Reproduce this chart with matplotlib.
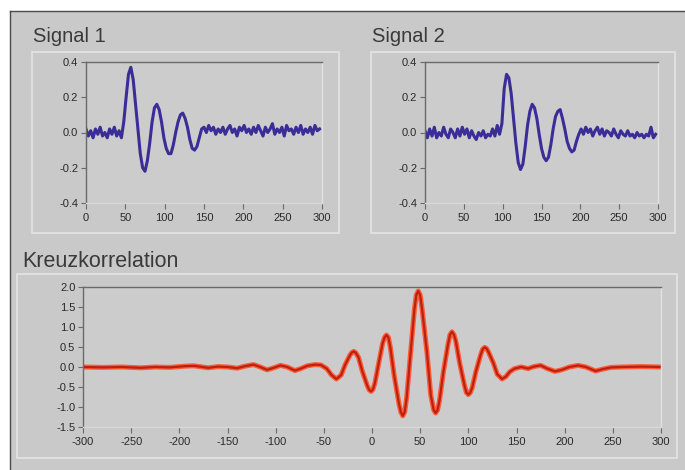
import matplotlib
matplotlib.use("Agg")
import matplotlib.pyplot as plt
import matplotlib.patches as patches
from matplotlib.ticker import FormatStrFormatter
import numpy as np

plt.rcParams['axes.unicode_minus'] = False

# signal 1, one value every 3 samples (0..297)
sig1 = [0.02, -0.02, 0.01, -0.03, 0.02, -0.01, 0.03, -0.02, 0.0, -0.03,
        0.02, -0.01, 0.03, -0.02, 0.01, -0.03,
        0.06, 0.20, 0.33, 0.37, 0.30, 0.16, 0.02, -0.12, -0.20, -0.22,
        -0.16, -0.06, 0.06, 0.14, 0.16, 0.13, 0.06, -0.03, -0.09, -0.12,
        -0.12, -0.07, 0.0, 0.06, 0.10, 0.11, 0.08, 0.03, -0.04, -0.09,
        -0.10, -0.08, -0.03, 0.02,
        0.03, 0.0, 0.04, 0.01, 0.03, -0.01, 0.02, 0.0, 0.03, -0.01,
        0.02, 0.04, 0.0, 0.02, -0.02, 0.03, 0.01, 0.04, 0.0, 0.02,
        -0.01, 0.03, 0.0, 0.04, 0.01, -0.02, 0.03, 0.0, 0.02, 0.05,
        -0.01, 0.02, 0.0, 0.03, -0.02, 0.04, 0.01, 0.02, -0.01, 0.03,
        0.0, 0.04, -0.01, 0.02, 0.0, 0.03, -0.01, 0.04, 0.01, 0.02]

# signal 2, same sampling
sig2 = [0.01, -0.03, 0.02, -0.02, 0.03, -0.03, 0.0, -0.02, 0.03, -0.01,
        -0.03, 0.02, 0.0, -0.03, 0.02, -0.02, 0.03, -0.01, 0.02, -0.03,
        0.01, -0.02, -0.04, 0.0, -0.02, 0.01, -0.03, -0.01, -0.02, 0.02,
        -0.02, 0.04, -0.01,
        0.05, 0.25, 0.33, 0.31, 0.22, 0.08, -0.06, -0.17, -0.21, -0.18,
        -0.08, 0.04, 0.12, 0.16, 0.14, 0.08, -0.01, -0.09, -0.14, -0.16,
        -0.14, -0.07, 0.02, 0.09, 0.12, 0.13, 0.08, 0.02, -0.05, -0.09,
        -0.11, -0.10, -0.05, -0.01,
        0.02, -0.01, 0.03, 0.0, 0.02, -0.02, 0.01, 0.03, -0.01, 0.02,
        -0.02, 0.01, 0.0, -0.02, 0.02, -0.01, -0.03, 0.01, -0.01, -0.02,
        0.01, -0.02, -0.01, -0.03, 0.0, -0.02, -0.01, -0.03, -0.01, -0.02,
        0.03, -0.03, -0.01]

samples = np.arange(0, 300, 3)

# cross correlation
lags = [-300, -280, -260, -240, -225, -210, -195, -185, -170, -160,
        -150, -140, -132, -123, -116, -109, -102, -95, -88, -80,
        -74, -67, -59, -53, -47, -42, -37, -32, -28, -23,
        -21, -19, -17, -14, -10, -5, -3, -1, 1, 3,
        7, 11, 13, 15, 17, 19, 23, 28, 30, 32,
        34, 36, 40, 44, 46, 48, 50, 52, 57, 61,
        64, 66, 68, 70, 74, 79, 81, 83, 85, 87,
        91, 96, 98, 100, 102, 104, 108, 113, 115, 117,
        119, 121, 126, 130, 135, 139, 143, 148, 155, 162,
        168, 175, 182, 190, 197, 205, 214, 222, 232, 240,
        248, 260, 280, 300]
xcorr = [0.0, -0.01, 0.0, -0.02, 0.0, -0.01, 0.02, 0.03, -0.02, 0.01,
         0.0, -0.03, 0.02, 0.06, 0.0, -0.07, -0.02, 0.04, 0.0, -0.09,
         -0.04, 0.03, 0.06, 0.05, -0.04, -0.20, -0.30, -0.20, 0.05, 0.29,
         0.36, 0.39, 0.36, 0.24, -0.11, -0.46, -0.57, -0.61, -0.56, -0.40,
         0.10, 0.59, 0.74, 0.80, 0.74, 0.50, -0.21, -0.92, -1.13, -1.22,
         -1.12, -0.76, 0.34, 1.44, 1.80, 1.90, 1.80, 1.45, 0.38, -0.70,
         -1.07, -1.15, -1.08, -0.85, -0.14, 0.58, 0.81, 0.88, 0.81, 0.65,
         0.10, -0.46, -0.64, -0.69, -0.64, -0.52, -0.10, 0.32, 0.45, 0.49,
         0.46, 0.37, 0.10, -0.18, -0.30, -0.24, -0.12, -0.04, 0.0, -0.04,
         0.01, 0.04, -0.04, -0.11, -0.07, 0.0, 0.04, 0.0, -0.10, -0.05,
         -0.01, 0.0, 0.01, 0.0]

titles = ["Signal 1", "Signal 2", "Kreuzkorrelation"]

W, H = 685, 470
bg = '#c9c9c9'
txt = '#3a3a3a'


def box(l, t, r, b):
    return [l / W, 1 - b / H, (r - l) / W, (b - t) / H]


fig = plt.figure(figsize=(6.85, 4.70), dpi=100, facecolor='white')

# grey window with dark top/left edge, kept behind the axes
fig.add_artist(patches.Rectangle((10 / W, 0), 1, 1 - 11 / H, transform=fig.transFigure,
                                 facecolor=bg, edgecolor='none', zorder=-10))
fig.add_artist(plt.Line2D([10 / W, 10 / W], [0, 1 - 11 / H], transform=fig.transFigure,
                          color='#4a4a4a', lw=1, zorder=-9))
fig.add_artist(plt.Line2D([10 / W, 1], [1 - 11 / H, 1 - 11 / H], transform=fig.transFigure,
                          color='#4a4a4a', lw=1, zorder=-9))

# light frames around the graphs
for l, t, r, b in [(32, 52, 339, 233), (371, 52, 675, 233), (17, 274, 677, 458)]:
    fig.add_artist(patches.Rectangle((l / W, 1 - b / H), (r - l) / W, (b - t) / H,
                                     transform=fig.transFigure, facecolor='none',
                                     edgecolor='#e4e4e4', lw=1.2, zorder=-8))

fig.text(33 / W, 1 - 42 / H, titles[0], fontsize=14.5, color=txt, family='Liberation Sans')
fig.text(372 / W, 1 - 42 / H, titles[1], fontsize=14.5, color=txt, family='Liberation Sans')
fig.text(22 / W, 1 - 267 / H, titles[2], fontsize=15.5, color=txt, family='Liberation Sans')


def style(ax):
    ax.set_facecolor('#cccccc')
    ax.spines['top'].set_color('#6a6a6a')
    ax.spines['left'].set_color('#6a6a6a')
    ax.spines['right'].set_color('#e2e2e2')
    ax.spines['bottom'].set_color('#d8d8d8')
    for s in ax.spines.values():
        s.set_linewidth(1)
    ax.tick_params(direction='out', length=3.5, width=0.8, color='#6a6a6a',
                   labelsize=8, labelcolor='#2a2a2a', pad=2)
    ax.tick_params(axis='x', length=4.5, pad=3)
    for lab in ax.get_xticklabels() + ax.get_yticklabels():
        lab.set_family('Liberation Sans')


ax1 = fig.add_axes(box(86, 62, 322, 203))
ax1.plot(samples, sig1, color='#3a2d98', lw=2.2)
ax2 = fig.add_axes(box(425, 62, 658, 203))
ax2.plot(samples, sig2, color='#3a2d98', lw=2.2)
for ax in (ax1, ax2):
    ax.set_xlim(0, 300)
    ax.set_ylim(-0.4, 0.4)
    ax.set_xticks(np.arange(0, 301, 50))
    ax.set_yticks([-0.4, -0.2, 0.0, 0.2, 0.4])
    ax.yaxis.set_major_formatter(FormatStrFormatter('%.1f'))
    style(ax)

ax3 = fig.add_axes(box(83, 287, 661, 427))
ax3.plot(lags, xcorr, color='#ff5a3a', lw=3.6, solid_capstyle='round')
ax3.plot(lags, xcorr, color='#b8220e', lw=1.6)
ax3.set_xlim(-300, 300)
ax3.set_ylim(-1.5, 2.0)
ax3.set_xticks(np.arange(-300, 301, 50))
ax3.set_yticks(np.arange(-1.5, 2.01, 0.5))
ax3.yaxis.set_major_formatter(FormatStrFormatter('%.1f'))
style(ax3)

fig.savefig('out.png', dpi=100, facecolor='white')
